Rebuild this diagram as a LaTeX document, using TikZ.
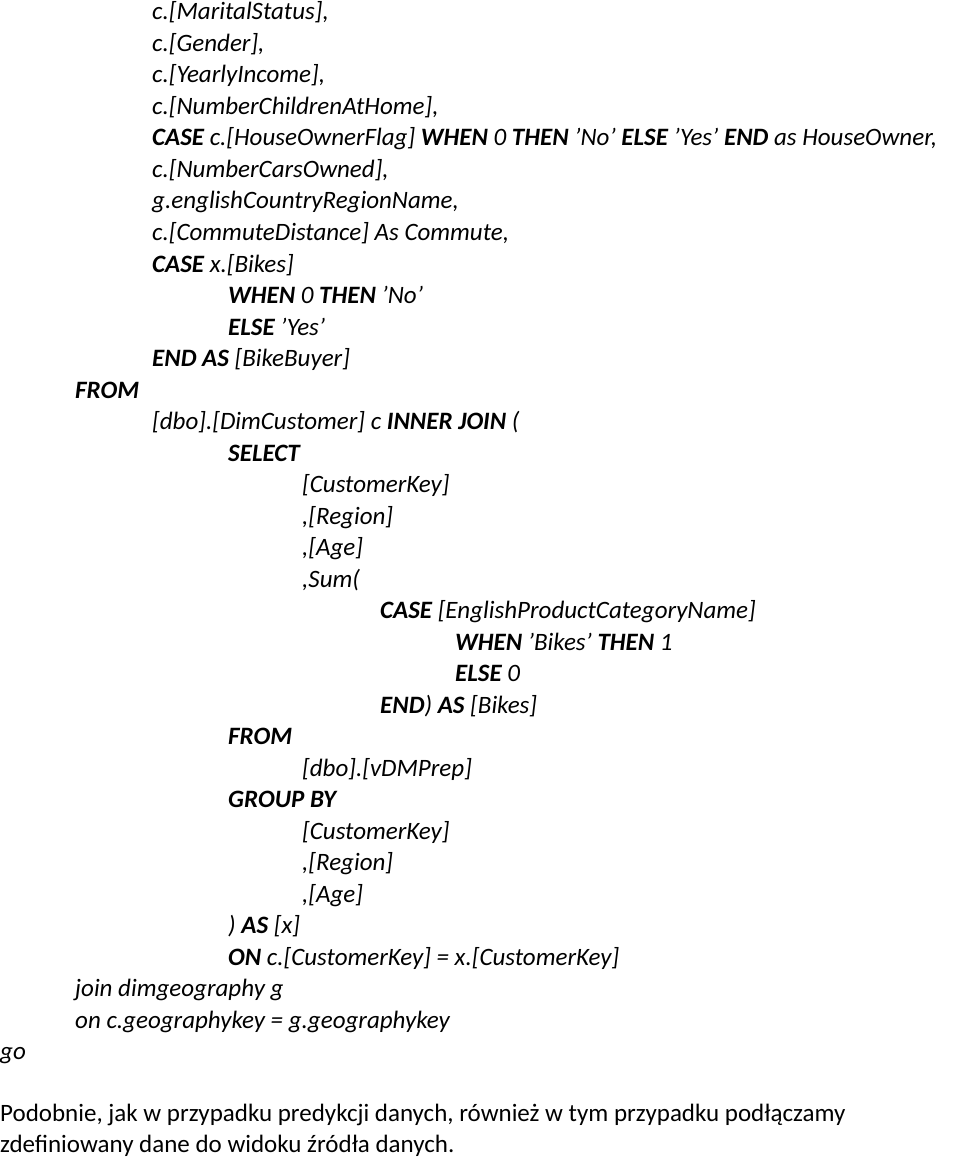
\documentclass[tikz,border=0pt]{standalone}
\usepackage{fontspec}
\setmainfont{Carlito}
\begin{document}
\begin{tikzpicture}[x=1pt,y=-1pt,
  code/.style={anchor=base west,inner sep=0pt,font=\fontsize{25}{30}\selectfont\itshape},
  prose/.style={anchor=base west,inner sep=0pt,font=\fontsize{25}{30}\selectfont}]
\useasboundingbox (0,0) rectangle (960,1158);
\newcommand\kw[1]{\textbf{#1}}
\node[code] (l1) at (152,20) {c.[MaritalStatus],};
\node[code] (l2) at (152,51.5) {c.[Gender],};
\node[code] (l3) at (152,83) {c.[YearlyIncome],};
\node[code] (l4) at (152,114.5) {c.[NumberChildrenAtHome],};
\node[code] (l5) at (152,146) {\kw{CASE} c.[HouseOwnerFlag] \kw{WHEN} 0 \kw{THEN} 'No' \kw{ELSE} 'Yes' \kw{END} as HouseOwner,};
\node[code] (l6) at (152,177.5) {c.[NumberCarsOwned],};
\node[code] (l7) at (152,209) {g.englishCountryRegionName,};
\node[code] (l8) at (152,240.5) {c.[CommuteDistance] As Commute,};
\node[code] (l9) at (152,272) {\kw{CASE} x.[Bikes]};
\node[code] (l10) at (228,303.5) {\kw{WHEN} 0 \kw{THEN} 'No'};
\node[code] (l11) at (228,335) {\kw{ELSE} 'Yes'};
\node[code] (l12) at (152,366.5) {\kw{END AS} [BikeBuyer]};
\node[code] (l13) at (75,398) {\kw{FROM}};
\node[code] (l14) at (152,429.5) {[dbo].[DimCustomer] c \kw{INNER JOIN} (};
\node[code] (l15) at (228,461) {\kw{SELECT}};
\node[code] (l16) at (302,492.5) {[CustomerKey]};
\node[code] (l17) at (302,524) {,[Region]};
\node[code] (l18) at (302,555.5) {,[Age]};
\node[code] (l19) at (302,587) {,Sum(};
\node[code] (l20) at (380,618.5) {\kw{CASE} [EnglishProductCategoryName]};
\node[code] (l21) at (455,650) {\kw{WHEN} 'Bikes' \kw{THEN} 1};
\node[code] (l22) at (455,681.5) {\kw{ELSE} 0};
\node[code] (l23) at (380,713) {\kw{END}) \kw{AS} [Bikes]};
\node[code] (l24) at (228,744.5) {\kw{FROM}};
\node[code] (l25) at (302,776) {[dbo].[vDMPrep]};
\node[code] (l26) at (228,807.5) {\kw{GROUP BY}};
\node[code] (l27) at (302,839) {[CustomerKey]};
\node[code] (l28) at (302,870.5) {,[Region]};
\node[code] (l29) at (302,902) {,[Age]};
\node[code] (l30) at (228,933.5) {) \kw{AS} [x]};
\node[code] (l31) at (228,965) {\kw{ON} c.[CustomerKey] = x.[CustomerKey]};
\node[code] (l32) at (75,996.5) {join dimgeography g};
\node[code] (l33) at (75,1028) {on c.geographykey = g.geographykey};
\node[code] (l34) at (0,1059.5) {go};
\node[prose] (p1) at (0,1121) {Podobnie, jak w przypadku predykcji danych, również w tym przypadku podłączamy};
\node[prose] (p2) at (0,1152) {zdefiniowany dane do widoku źródła danych.};
\end{tikzpicture}
\end{document}
